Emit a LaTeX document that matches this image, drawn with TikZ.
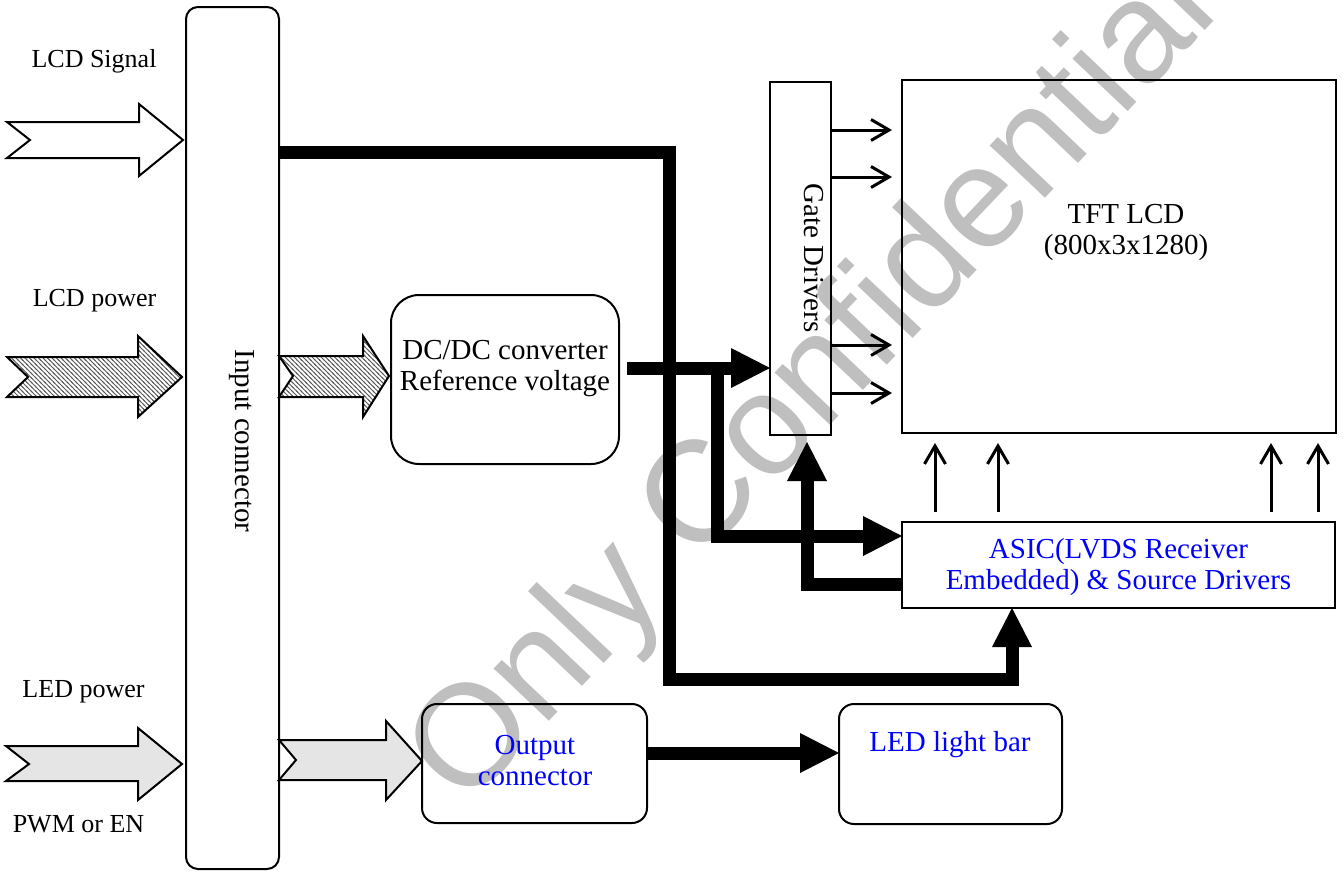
\documentclass[tikz,border=0pt]{standalone}
\usepackage{fontspec}
\setmainfont{Liberation Serif}
\newfontfamily\wmfont{Liberation Sans}
\usetikzlibrary{arrows.meta,patterns.meta}
\definecolor{txtblue}{RGB}{0,0,255}
\tikzdeclarepattern{
  name=hatchnw, type=uncolored,
  bounding box={(-1pt,-1pt) and (5.5pt,5.5pt)},
  tile size={(4.5pt,4.5pt)},
  code={\draw[line width=0.9pt] (-1pt,5.5pt) -- (5.5pt,-1pt);}
}
\tikzset{
  box/.style={draw, line width=2pt, inner sep=0pt, outer sep=0pt},
  rbox/.style={box, rounded corners=#1},
  lbl/.style={font=\fontsize{26}{30}\selectfont, inner sep=0pt},
  boxtxt/.style={font=\fontsize{29}{31}\selectfont, align=center, inner sep=0pt},
  bigline/.style={line width=13pt, line join=miter, -{Triangle[length=39pt,width=40pt,line width=0pt]}},
  smallarrow/.style={line width=3pt, -{Straight Barb[length=18pt,width=21pt]}},
  fatarrow/.style={draw, line width=2pt, line join=miter},
}
\begin{document}
\begin{tikzpicture}[x=1pt,y=-1pt]
\useasboundingbox (0,0) rectangle (1343,873);
% watermark
\node[font=\wmfont\fontsize{144}{150}\selectfont, text=black!25, rotate=46.5, inner sep=0pt] (wm) at (816,386) {Only Confidential};

% boxes
\node[rbox=12pt, minimum width=93pt, minimum height=862pt] (inconn) at (232.5,438) {};
\node[rbox=28pt, minimum width=228pt, minimum height=169pt] (dcdc) at (505,379.5) {};
\node[box, minimum width=61pt, minimum height=353pt] (gate) at (800.5,258.5) {};
\node[box, minimum width=434pt, minimum height=353pt] (tft) at (1119,256.5) {};
\node[box, minimum width=433pt, minimum height=86pt] (asic) at (1118.5,565) {};
\node[rbox=15pt, minimum width=225pt, minimum height=119pt] (outc) at (534.5,763.5) {};
\node[rbox=15pt, minimum width=223pt, minimum height=120pt] (ledbar) at (950.5,764) {};

% texts
\node[lbl] (tsig) at (94,61) {LCD Signal};
\node[lbl] (tpow) at (94.5,301) {LCD power};
\node[lbl] (tled) at (83.5,692) {LED power};
\node[lbl] (tpwm) at (78.5,824) {PWM or EN};
\node[boxtxt, rotate=-90] (tin) at (242,441) {Input connector};
\node[boxtxt, rotate=-90] (tgate) at (814,258) {Gate Drivers};
\node[boxtxt] (tdc) at (505,369) {DC/DC converter\\Reference voltage};
\node[boxtxt] (ttft) at (1126,232) {TFT LCD\\(800x3x1280)};
\node[boxtxt, text=txtblue] (tasic) at (1118.5,567) {ASIC(LVDS Receiver\\Embedded) \& Source Drivers};
\node[boxtxt, text=txtblue] (tout) at (535,761) {Output\\connector};
\node[boxtxt, text=txtblue] (tledbar) at (950,745) {LED light bar};

% fat input arrows
\path[fatarrow, fill=white] (7,122) -- (139,122) -- (139,104) -- (183,140) -- (139,176) -- (139,158) -- (7,158) -- (30,140) -- cycle;
\path[fatarrow, pattern=hatchnw, pattern color=black!65] (7,357) -- (138,357) -- (138,336) -- (182,377) -- (138,417) -- (138,397) -- (7,397) -- (28,377) -- cycle;
\path[fatarrow, pattern=hatchnw, pattern color=black!65] (279,356) -- (363,356) -- (363,336) -- (389,376) -- (363,417) -- (363,397) -- (279,397) -- (293,376) -- cycle;
\path[fatarrow, fill=black!10] (6,746) -- (138,746) -- (138,728) -- (182,764) -- (138,800) -- (138,781) -- (6,781) -- (29,764) -- cycle;
\path[fatarrow, fill=black!10] (279,740) -- (386,740) -- (386,721) -- (422,761) -- (386,800) -- (386,780) -- (279,780) -- (296,760) -- cycle;

% thick connectors
\coordinate (split) at (717,368);
\draw[bigline] (inconn.east |- 0,152) -- (669,152) -- (669,679) -- (1012,679) -- (asic.south -| 1012,0);
\draw[bigline, shorten <=8pt] (dcdc.east |- split) -- (gate.west |- split);
\draw[bigline] (split) -- (717,536) -- (asic.west |- 0,536);
\draw[bigline, shorten >=7pt] (asic.west |- 0,584) -- (807,584) -- (gate.south -| 807,0);
\draw[bigline] (outc.east |- 0,753) -- (ledbar.west |- 0,753);

% small arrows
\foreach \yy in {130,177,345,393}
  \draw[smallarrow, shorten >=10pt] (gate.east |- 0,\yy) -- (tft.west |- 0,\yy);
\foreach \xx in {935,998,1271,1318}
  \draw[smallarrow, shorten <=10pt, shorten >=10pt] (asic.north -| \xx,0) -- (tft.south -| \xx,0);
\end{tikzpicture}
\end{document}
